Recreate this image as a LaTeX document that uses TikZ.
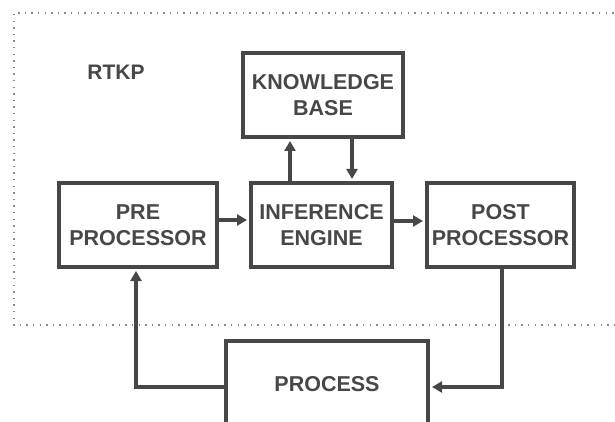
\documentclass[tikz,border=0pt]{standalone}
\usepackage{fontspec}
\setmainfont{Liberation Sans}
\usetikzlibrary{arrows.meta}
\definecolor{ink}{HTML}{474747}
\definecolor{dots}{HTML}{8A8A8A}
\tikzset{
  unit/.style={draw=ink, line width=4pt, fill=white, inner sep=0pt,
    align=center, font=\bfseries\fontsize{21.5}{26}\selectfont, text=ink},
  link/.style={draw=ink, line width=3.2pt,
    -{Triangle[length=10pt,width=11pt]}, shorten >=2pt},
  label/.style={font=\bfseries\fontsize{21}{24}\selectfont, text=ink}
}
\begin{document}
\begin{tikzpicture}[x=1pt,y=-1pt]
  \useasboundingbox (0,0) rectangle (615,422);
  \fill[white] (0,0) rectangle (615,422);
  % system boundary (runs off the right edge)
  \draw[dots, line width=1.4pt, dash pattern=on 1.4pt off 5.2pt]
    (640,13) -- (14,13) -- (14,325) -- (640,325);
  \node[label] (rtkp) at (116,72) {RTKP};

  \node[unit, minimum width=160pt, minimum height=84pt] (kb) at (323,95)
    {KNOWLEDGE\\BASE};
  \node[unit, minimum width=158pt, minimum height=84pt] (pre) at (138,225)
    {PRE\\PROCESSOR};
  \node[unit, minimum width=141pt, minimum height=84pt] (ie) at (321.5,225)
    {INFERENCE\\ENGINE};
  \node[unit, minimum width=147pt, minimum height=84pt] (post) at (500.5,225)
    {POST\\PROCESSOR};
  \node[unit, minimum width=202pt, minimum height=86pt] (proc) at (327,384)
    {PROCESS};

  % data flow
  \draw[link, line cap=round] ([yshift=5pt]pre.east) -- ([yshift=5pt]ie.west);
  \draw[link] ([yshift=4pt]ie.east) -- ([yshift=4pt]post.west);
  \draw[link] ([xshift=-31.5pt]ie.north) -- ([xshift=-31.5pt]ie.north |- kb.south);
  \draw[link] ([xshift=30.5pt]ie.north |- kb.south) -- ([xshift=30.5pt]ie.north);
  \draw[link] ([yshift=-3pt]proc.west) -| ([xshift=-2pt]pre.south);
  \draw[link] ([xshift=1.5pt]post.south) |- ([yshift=-3pt]proc.east);
\end{tikzpicture}
\end{document}
